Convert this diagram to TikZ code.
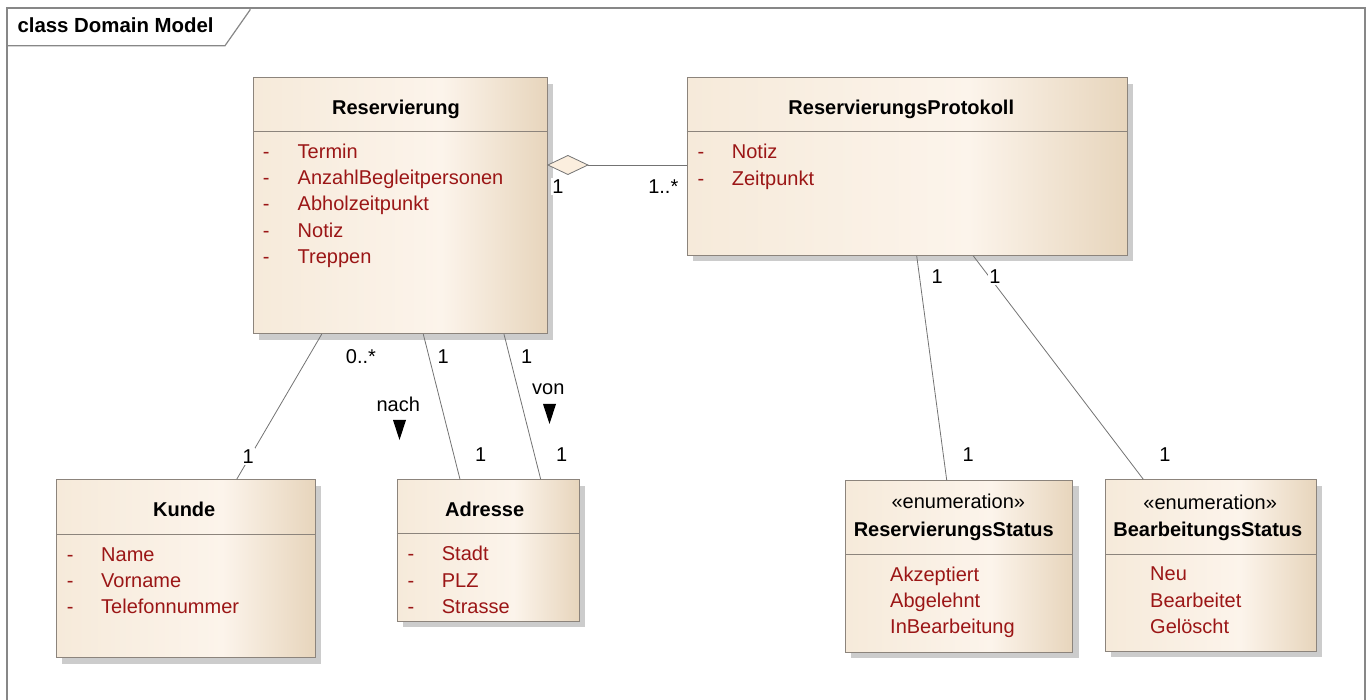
\documentclass[tikz,border=0pt]{standalone}
\usepackage{fontspec}
\setmainfont{Liberation Sans}
\usetikzlibrary{shadows,calc}

\definecolor{umlA}{RGB}{246,234,218}
\definecolor{umlB}{RGB}{252,244,235}
\definecolor{umlC}{RGB}{231,213,188}
\definecolor{umlBorder}{RGB}{140,132,124}
\definecolor{attrRed}{RGB}{155,22,22}
\definecolor{frameGray}{RGB}{135,135,135}
\definecolor{lineGray}{RGB}{115,115,115}
\definecolor{diamFill}{RGB}{251,238,222}

% horizontal cream-to-tan fill of the class boxes
\pgfdeclarehorizontalshading{umlfill}{100bp}{color(0bp)=(umlA); color(25bp)=(umlA); color(57bp)=(umlB); color(75bp)=(umlC); color(100bp)=(umlC)}

\tikzset{
  umlclass/.style={rectangle, draw=umlBorder, line width=0.9pt, shading=umlfill,
    inner sep=0pt, anchor=north west,
    drop shadow={shadow xshift=6pt, shadow yshift=-6pt, fill=black!20, opacity=1}},
  sepline/.style={draw=umlBorder, line width=0.9pt},
  ctitle/.style={anchor=base, inner sep=0pt, font=\fontsize{20}{24}\selectfont\bfseries},
  stereo/.style={anchor=base, inner sep=0pt, font=\fontsize{20}{24}\selectfont},
  attrsign/.style={anchor=base west, inner sep=0pt, text=attrRed, font=\fontsize{20}{24}\selectfont},
  attrname/.style={anchor=base west, inner sep=0pt, text=attrRed, font=\fontsize{20}{24}\selectfont},
  assoc/.style={draw=lineGray, line width=0.8pt},
  mult/.style={anchor=base, fill=white, inner sep=1.5pt, font=\fontsize{20}{24}\selectfont},
  rolelbl/.style={anchor=base, inner sep=0pt, font=\fontsize{20}{24}\selectfont},
}

\begin{document}
\begin{tikzpicture}[x=1pt,y=-1pt]
\useasboundingbox (0,0) rectangle (1371,700);

% frame and title tab
\draw[frameGray, line width=1.2pt] (7,8) rectangle (1365,702);
\draw[frameGray, line width=1.2pt] (7,45.7) -- (225,45.7) -- (250,10) -- (250,8);
\node[anchor=base west, inner sep=0pt, font=\fontsize{20.4}{24}\selectfont\bfseries] (frametitle) at (17.3,32.3) {class Domain Model};

% ---------- classes ----------
\node[umlclass, minimum width=294pt, minimum height=256pt] (res) at (253,77.3) {};
\draw[sepline] ($(res.north west)+(0,54.4)$) -- ($(res.north east)+(0,54.4)$);
\node[ctitle] (resT) at (396,115) {Reservierung};
\foreach \t [count=\i] in {Termin,AnzahlBegleitpersonen,Abholzeitpunkt,Notiz,Treppen}{
  \node[attrsign] (res-s\i) at (262.7,{158.3+26.33*(\i-1)}) {-};
  \node[attrname] (res-a\i) at (297.5,{158.3+26.33*(\i-1)}) {\t};
}

\node[umlclass, minimum width=440pt, minimum height=177.7pt] (rp) at (686.7,77.3) {};
\draw[sepline] ($(rp.north west)+(0,54.4)$) -- ($(rp.north east)+(0,54.4)$);
\node[ctitle] (rpT) at (901.3,114.5) {ReservierungsProtokoll};
\foreach \t [count=\i] in {Notiz,Zeitpunkt}{
  \node[attrsign] (rp-s\i) at (697.3,{159+26.33*(\i-1)}) {-};
  \node[attrname] (rp-a\i) at (731.7,{159+26.33*(\i-1)}) {\t};
}

\node[umlclass, minimum width=259pt, minimum height=178pt] (kunde) at (56,479.3) {};
\draw[sepline] ($(kunde.north west)+(0,54.7)$) -- ($(kunde.north east)+(0,54.7)$);
\node[ctitle] (kundeT) at (184.2,516) {Kunde};
\foreach \t [count=\i] in {Name,Vorname,Telefonnummer}{
  \node[attrsign] (kunde-s\i) at (66.7,{561+26.33*(\i-1)}) {-};
  \node[attrname] (kunde-a\i) at (101,{561+26.33*(\i-1)}) {\t};
}

\node[umlclass, minimum width=182.3pt, minimum height=141.7pt] (adr) at (396.7,479.3) {};
\draw[sepline] ($(adr.north west)+(0,54.2)$) -- ($(adr.north east)+(0,54.2)$);
\node[ctitle] (adrT) at (484.7,516) {Adresse};
\foreach \t [count=\i] in {Stadt,PLZ,Strasse}{
  \node[attrsign] (adr-s\i) at (407.3,{560.7+26.33*(\i-1)}) {-};
  \node[attrname] (adr-a\i) at (441.7,{560.7+26.33*(\i-1)}) {\t};
}

\node[umlclass, minimum width=227.3pt, minimum height=171.7pt] (rs) at (845,480) {};
\draw[sepline] ($(rs.north west)+(0,74.5)$) -- ($(rs.north east)+(0,74.5)$);
\node[stereo] (rsS) at (958.3,508.3) {«enumeration»};
\node[ctitle] (rsT) at (953.8,536.7) {ReservierungsStatus};
\foreach \t [count=\i] in {Akzeptiert,Abgelehnt,InBearbeitung}{
  \node[attrname] (rs-a\i) at (890,{581+26.33*(\i-1)}) {\t};
}

\node[umlclass, minimum width=211pt, minimum height=171.7pt] (bs) at (1105,479.3) {};
\draw[sepline] ($(bs.north west)+(0,75.2)$) -- ($(bs.north east)+(0,75.2)$);
\node[stereo] (bsS) at (1210.2,509.3) {«enumeration»};
\node[ctitle] (bsT) at (1207.8,536.7) {BearbeitungsStatus};
\foreach \t [count=\i] in {Neu,Bearbeitet,Gelöscht}{
  \node[attrname] (bs-a\i) at (1150,{580.7+26.33*(\i-1)}) {\t};
}

% ---------- associations ----------
% aggregation Reservierung <>--- ReservierungsProtokoll
\coordinate (aggL) at ($(res.north east)+(0,87.7)$);
\coordinate (aggR) at ($(aggL)+(40,0)$);
\draw[assoc] (aggR) -- (aggR -| rp.west);
\draw[draw=lineGray, line width=0.8pt, fill=diamFill] (aggL) -- ($(aggL)+(20,-9.5)$) -- (aggR) -- ($(aggL)+(20,9.5)$) -- cycle;

\draw[assoc] ($(res.south west)+(68.7,0)$) -- ($(kunde.north west)+(180.7,0)$);
\draw[assoc] ($(res.south west)+(170.3,0)$) -- ($(adr.north west)+(63.3,0)$);
\draw[assoc] ($(res.south west)+(251,0)$) -- ($(adr.north west)+(144,0)$);
\draw[assoc] ($(rp.south west)+(230,0)$) -- ($(rs.north west)+(101.7,0)$);
\draw[assoc] ($(rp.south west)+(286.6,0)$) -- ($(bs.north west)+(38.3,0)$);

% multiplicities
\node[mult] (m1) at (558,193.3) {1};
\node[mult] (m2) at (663.3,193.3) {1..*};
\node[mult] (m3) at (361,363.3) {0..*};
\node[mult] (m4) at (248.3,463.3) {1};
\node[mult] (m5) at (443.3,363.3) {1};
\node[mult] (m6) at (480.7,461.7) {1};
\node[mult] (m7) at (526.7,363.3) {1};
\node[mult] (m8) at (561.7,461.7) {1};
\node[mult] (m9) at (937.3,284) {1};
\node[mult] (m10) at (968.3,461) {1};
\node[mult] (m11) at (995,284) {1};
\node[mult] (m12) at (1165,461) {1};

% role names with direction markers
\node[rolelbl] (nach) at (398.3,411.7) {nach};
\fill (393,420) -- (406,420) -- (399.5,440) -- cycle;
\node[rolelbl] (von) at (548.3,395) {von};
\fill (543,404) -- (556,404) -- (549.5,424) -- cycle;
\end{tikzpicture}
\end{document}
